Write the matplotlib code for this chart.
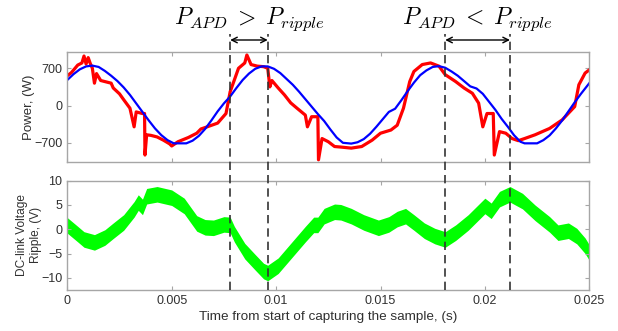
import numpy as np
import matplotlib
matplotlib.use('Agg')
import matplotlib.pyplot as plt
from matplotlib.lines import Line2D
from matplotlib.transforms import blended_transform_factory

# values
blue_t = [0.0000, 0.0003, 0.0006, 0.0009, 0.0012, 0.0015, 0.0018, 0.0021, 0.0024,
          0.0027, 0.0030, 0.0033, 0.0036, 0.0039, 0.0042, 0.0045, 0.0048, 0.0051,
          0.0057, 0.0060, 0.0063, 0.0066, 0.0069, 0.0072, 0.0075, 0.0078, 0.0081,
          0.0084, 0.0087, 0.0090, 0.0093, 0.0096, 0.0099, 0.0102, 0.0105, 0.0108,
          0.0111, 0.0114, 0.0117, 0.0120, 0.0123, 0.0126, 0.0129, 0.0132, 0.0136,
          0.0139, 0.0142, 0.0145, 0.0148, 0.0151, 0.0154, 0.0157, 0.0160, 0.0163,
          0.0166, 0.0169, 0.0172, 0.0175, 0.0178, 0.0181, 0.0184, 0.0187, 0.0190,
          0.0193, 0.0196, 0.0199, 0.0202, 0.0205, 0.0208, 0.0211, 0.0214, 0.0217,
          0.0219, 0.0225, 0.0228, 0.0231, 0.0234, 0.0237, 0.0240, 0.0243, 0.0246,
          0.0250]
blue_p = [480, 590, 680, 735, 750, 725, 650, 560, 460,
          340, 200, 40, -120, -280, -430, -555, -650, -710,
          -710, -660, -570, -440, -280, -110, 40, 170, 330,
          480, 600, 690, 735, 735, 690, 610, 500, 390,
          260, 120, -20, -160, -290, -450, -600, -700, -715,
          -690, -630, -530, -400, -260, -120, -60, 100, 270,
          430, 570, 660, 725, 740, 710, 640, 560, 460,
          360, 320, 220, 70, -80, -250, -400, -560, -680,
          -710, -710, -650, -560, -430, -280, -110, 60, 220,
          420]

red_t = [0.0, 0.0002, 0.0005, 0.0007, 0.0008, 0.0009, 0.0010, 0.0011, 0.0012,
         0.0013, 0.0014, 0.0016, 0.0018, 0.0021, 0.0022, 0.0025, 0.0027, 0.0030,
         0.0032, 0.0033, 0.0036, 0.0037, 0.00372, 0.0038, 0.0040, 0.0043, 0.0046,
         0.0049, 0.0050, 0.0053, 0.0058, 0.0062, 0.0064, 0.0067, 0.0072, 0.0076,
         0.0078, 0.0080, 0.0082, 0.0085, 0.0086, 0.0088, 0.0091, 0.0094, 0.0096,
         0.0097, 0.0098, 0.0101, 0.0104, 0.0107, 0.0110, 0.0114, 0.0115, 0.0117,
         0.0120, 0.01203, 0.0122, 0.0125, 0.0128, 0.0131, 0.0136, 0.0141, 0.0146,
         0.0150, 0.0155, 0.0158, 0.0161, 0.0164, 0.0166, 0.0170, 0.0174, 0.0178,
         0.0181, 0.0186, 0.0190, 0.0194, 0.0197, 0.0199, 0.0201, 0.0204, 0.02045,
         0.0207, 0.0210, 0.0213, 0.0216, 0.0219, 0.0224, 0.0231, 0.0237, 0.0243,
         0.0245, 0.0248, 0.0250]
red_p = [560, 620, 760, 800, 930, 780, 900, 790, 700,
         420, 600, 470, 450, 420, 330, 220, 110, -50,
         -400, -120, -150, -150, -930, -550, -560, -590, -650,
         -720, -760, -680, -600, -520, -440, -400, -330, -150,
         260, 480, 700, 800, 950, 770, 740, 730, 700,
         350, 470, 330, 200, 50, -50, -180, -400, -210,
         -210, -1020, -620, -680, -770, -780, -800, -770, -650,
         -520, -460, -370, -50, 450, 640, 770, 800, 740,
         580, 450, 330, 230, 45, -400, -150, -150, -930,
         -490, -520, -620, -660, -620, -550, -430, -270, -20,
         390, 610, 670]

green_t = [0.0, 0.0005, 0.0008, 0.0013, 0.0018, 0.0022, 0.0027, 0.0032, 0.0034,
           0.0036, 0.0038, 0.0043, 0.0050, 0.0056, 0.0062, 0.0066, 0.0070, 0.0075,
           0.0078, 0.0080, 0.0085, 0.0090, 0.0094, 0.0096, 0.0101, 0.0107, 0.0114,
           0.0118, 0.0120, 0.0123, 0.0128, 0.0131, 0.0136, 0.0142, 0.0149, 0.0154,
           0.0158, 0.0162, 0.0166, 0.0171, 0.0176, 0.0181, 0.0186, 0.0192, 0.0196,
           0.0200, 0.0203, 0.0207, 0.0212, 0.0218, 0.0224, 0.0231, 0.0235, 0.0240,
           0.0244, 0.0248, 0.0250]
green_v = [0.8, -1.0, -2.1, -2.7, -1.7, -0.3, 1.4, 4.1, 5.5,
           4.6, 6.8, 7.2, 6.5, 4.8, 1.2, 0.4, 0.3, 1.0,
           0.9, -1.0, -4.5, -6.8, -8.6, -9.0, -7.5, -4.5, -1.0,
           0.9, 0.9, 2.7, 3.6, 3.5, 2.7, 1.4, 0.3, 1.0,
           2.1, 2.7, 1.4, -0.3, -1.4, -2.1, -0.7, 1.4, 3.1,
           4.8, 3.8, 6.2, 7.2, 5.8, 3.4, 1.0, -0.7, -0.3,
           -1.4, -3.4, -4.8]
green_halfwidth = 1.6

marker_t = [0.0078, 0.0096, 0.0181, 0.0212]
labels = [r'$P_{APD}\;>\;P_{ripple}$', r'$P_{APD}\;<\;P_{ripple}$']

xticks = [0, 0.005, 0.01, 0.015, 0.02, 0.025]
xtick_labels = ['0', '0.005', '0.01', '0.015', '0.02', '0.025']

plt.rcParams['font.family'] = ['Liberation Sans', 'DejaVu Sans']
plt.rcParams['mathtext.fontset'] = 'cm'

W, H = 618, 331
fig = plt.figure(figsize=(W / 100, H / 100), dpi=100)
ax1 = fig.add_axes([67.3 / W, 1 - 161.7 / H, 522 / W, 109.4 / H])
ax2 = fig.add_axes([67.3 / W, 1 - 290 / H, 522 / W, 109.3 / H])

ax1.plot(red_t, red_p, color='#ff0000', lw=2.3)
ax1.plot(blue_t, blue_p, color='#0000ff', lw=1.6)
g = np.array(green_v)
ax2.fill_between(green_t, g - green_halfwidth, g + green_halfwidth,
                 color='#00ff00', lw=0)

ax1.set_ylim(-1055, 1000)
ax1.set_yticks([-700, 0, 700])
ax2.set_ylim(-12.5, 10)
ax2.set_yticks([-10, -5, 0, 5, 10])

for ax in (ax1, ax2):
    ax.set_xlim(0, 0.025)
    ax.set_xticks(xticks)
    for s in ax.spines.values():
        s.set_color('#a6a6a6')
        s.set_linewidth(1.0)
    ax.tick_params(direction='in', length=3, width=0.8, color='#a6a6a6',
                   labelcolor='#303030', labelsize=9, top=True, right=True)
ax1.set_xticklabels([])
ax2.set_xticklabels(xtick_labels)

ax1.set_ylabel('Power, (W)', fontsize=9.5, color='#303030')
ax1.yaxis.set_label_coords(-0.061, 0.5)
ax2.set_ylabel('DC-link Voltage\nRipple, (V)', fontsize=8.6, color='#303030',
               linespacing=1.25)
ax2.yaxis.set_label_coords(-0.048, 0.5)
ax2.set_xlabel('Time from start of capturing the sample, (s)', fontsize=9.7,
               color='#303030', labelpad=3)

# dashed markers running through both panels
tr = blended_transform_factory(ax1.transData, fig.transFigure)
for t in marker_t:
    fig.add_artist(Line2D([t, t], [1 - 290 / H, 1 - 34 / H], transform=tr,
                          color='#333333', lw=1.2, ls=(0, (5, 3))))

y_arrow = 1 - 40 / H
for i in range(2):
    t0, t1 = marker_t[2 * i], marker_t[2 * i + 1]
    ax1.annotate('', xy=(t1, y_arrow), xytext=(t0, y_arrow),
                 xycoords=tr, textcoords=tr,
                 arrowprops=dict(arrowstyle='<->', lw=1.0, color='black',
                                 shrinkA=0, shrinkB=0))
    fig.text((t0 + t1) / 2, 1 - 19 / H, labels[i], transform=tr,
             ha='center', va='center', fontsize=17)

fig.savefig('out.png', dpi=100)
